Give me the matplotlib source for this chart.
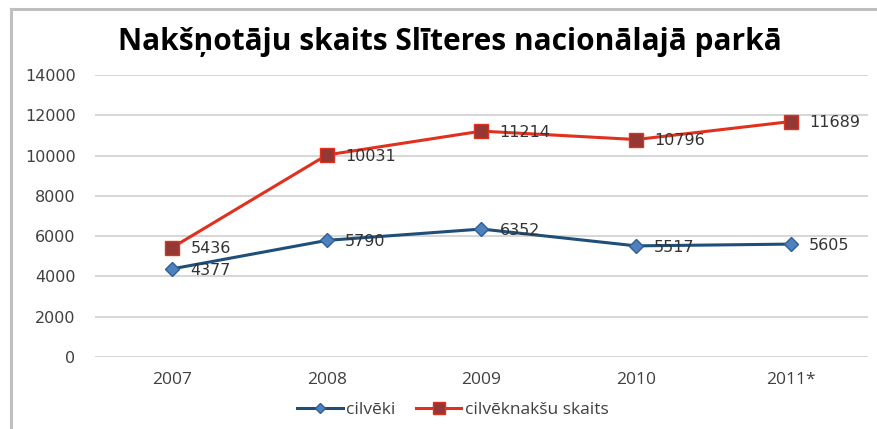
import matplotlib
matplotlib.use("Agg")
import matplotlib.pyplot as plt
from matplotlib.lines import Line2D

years = ["2007", "2008", "2009", "2010", "2011*"]
cilveki = [4377, 5790, 6352, 5517, 5605]
naksis = [5436, 10031, 11214, 10796, 11689]
yticks = [0, 2000, 4000, 6000, 8000, 10000, 12000, 14000]

W, H = 878, 429
fig = plt.figure(figsize=(W / 100, H / 100), dpi=100)

# outer frame
fig.add_artist(Line2D([11 / W, 11 / W], [0, 1 - 9 / H], color="#BFBFBF", lw=2.2))
fig.add_artist(Line2D([11 / W, 1], [1 - 9 / H, 1 - 9 / H], color="#BFBFBF", lw=2.2))

ax = fig.add_axes([95 / W, 72 / H, 773 / W, 282 / H])
x = list(range(len(years)))

ax.plot(x, cilveki, color="#1F4E79", lw=2.2, marker="D", markersize=7,
        markerfacecolor="#4F81BD", markeredgecolor="#2F5F98", markeredgewidth=1,
        label="cilvēki", zorder=3)
ax.plot(x, naksis, color="#E0301E", lw=2.2, marker="s", markersize=10,
        markerfacecolor="#953735", markeredgecolor="#E0301E", markeredgewidth=1,
        label="cilvēknakšu skaits", zorder=3)

for xi, v in zip(x, cilveki):
    ax.annotate(str(v), (xi, v), xytext=(13, -1), textcoords="offset points",
                ha="left", va="center", fontsize=11.5, color="#333333",
                family="DejaVu Sans")
for xi, v in zip(x, naksis):
    ax.annotate(str(v), (xi, v), xytext=(13, -1), textcoords="offset points",
                ha="left", va="center", fontsize=11.5, color="#333333",
                family="DejaVu Sans")

ax.set_xlim(-0.5, len(years) - 0.5)
ax.set_ylim(0, 14000)
ax.set_yticks(yticks)
ax.set_yticklabels([str(t) for t in yticks], fontsize=11.5, color="#404040",
                   family="DejaVu Sans")
ax.set_xticks(x)
ax.set_xticklabels(years, fontsize=12.5, color="#404040", family="Open Sans")
ax.tick_params(axis="both", length=0)
ax.tick_params(axis="y", pad=14)
ax.tick_params(axis="x", pad=11)
ax.grid(axis="y", color="#D0D0D0", lw=1.2)
ax.set_axisbelow(True)
for s in ax.spines.values():
    s.set_visible(False)

fig.text(450 / W, 1 - 42 / H, "Nakšņotāju skaits Slīteres nacionālajā parkā",
         ha="center", va="center", fontsize=21.5, fontweight="bold",
         family="Open Sans", color="#000000")

leg = fig.legend(loc="center", bbox_to_anchor=(453 / W, 1 - 410 / H), ncol=2,
                 frameon=False, handlelength=2.6, columnspacing=1.2,
                 handletextpad=0.2, markerscale=0.8,
                 prop={"family": "Open Sans", "size": 12.5})
for t in leg.get_texts():
    t.set_color("#404040")

fig.savefig("out.png", dpi=100)
